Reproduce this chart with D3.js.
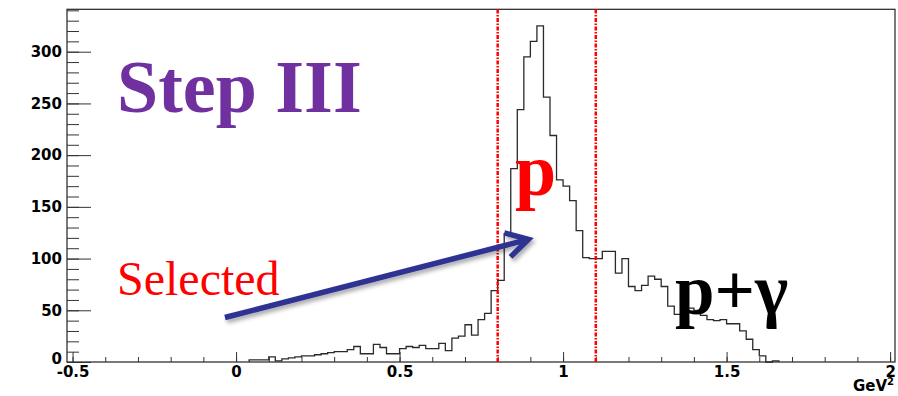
<!DOCTYPE html>
<html>
<head>
<meta charset="utf-8">
<script src="https://cdn.jsdelivr.net/npm/d3@7"></script>
<style>
  body { margin: 0; background: #fff; }
</style>
</head>
<body>
<svg id="chart" width="898" height="396"></svg>
<script>
// histogram of missing mass squared, bins of 0.02 GeV^2 starting at 0.04
var binStart = 0.04;
var binWidth = 0.02;
var counts = [
  2, 2, 2, 5, 1, 3, 4, 5, 6, 6,
  7, 8, 9, 10, 10, 12, 15, 8, 8, 17,
  14, 8, 8, 13, 15, 14, 16, 13, 13, 18,
  11, 23, 25, 36, 26, 41, 47, 69, 79, 124,
  187, 244, 295, 310, 325, 256, 219, 176, 170, 156,
  127, 101, 100, 100, 107, 107, 86, 100, 73, 69,
  74, 83, 80, 73, 54, 46, 50, 52, 50, 45,
  41, 40, 41, 37, 37, 30, 22, 12, 6, 0,
  1
];

// cut lines
var cuts = [0.8, 1.1];

// axis ticks
var xTicks = [-0.5, 0, 0.5, 1, 1.5, 2];
var xTickLabels = ["-0.5", "0", "0.5", "1", "1.5", "2"];
var yTicks = [0, 50, 100, 150, 200, 250, 300];
var yTickLabels = ["0", "50", "100", "150", "200", "250", "300"];

var svg = d3.select("#chart");

var plotLeft = 67, plotRight = 895, plotTop = 9.3, plotBottom = 362;

var x = d3.scaleLinear().domain([-0.517, 2.015]).range([plotLeft, plotRight]);
var y = d3.scaleLinear().domain([0, 341]).range([plotBottom, plotTop]);

function styleLabels(g) {
  g.select(".domain").remove();
  g.selectAll("text")
    .style("font-family", "DejaVu Sans, sans-serif")
    .style("font-weight", "bold")
    .style("font-size", "15px")
    .attr("fill", "#000");
  g.selectAll("line").attr("stroke", "#333");
}

// frame
svg.append("rect")
  .attr("x", plotLeft).attr("y", plotTop)
  .attr("width", plotRight - plotLeft).attr("height", plotBottom - plotTop)
  .attr("fill", "none")
  .attr("stroke", "#222")
  .attr("stroke-width", 1.2);

// x minor ticks
svg.append("g")
  .attr("transform", "translate(0," + plotBottom + ")")
  .call(d3.axisBottom(x)
    .tickValues(d3.range(-5, 21).map(i => i / 10))
    .tickSize(-5).tickSizeOuter(0).tickFormat(""))
  .call(styleLabels);

// x major ticks + labels
svg.append("g")
  .attr("transform", "translate(0," + plotBottom + ")")
  .call(d3.axisBottom(x)
    .tickValues(xTicks)
    .tickSize(-10).tickSizeOuter(0).tickPadding(4)
    .tickFormat((d, i) => xTickLabels[i]))
  .call(styleLabels);

// y minor ticks
svg.append("g")
  .attr("transform", "translate(" + plotLeft + ",0)")
  .call(d3.axisLeft(y)
    .tickValues(d3.range(0, 35).map(i => i * 10))
    .tickSize(-12).tickSizeOuter(0).tickFormat(""))
  .call(styleLabels);

// y major ticks + labels
svg.append("g")
  .attr("transform", "translate(" + plotLeft + ",0)")
  .call(d3.axisLeft(y)
    .tickValues(yTicks)
    .tickSize(-24).tickSizeOuter(0).tickPadding(5)
    .tickFormat((d, i) => yTickLabels[i]))
  .call(styleLabels)
  .call(g => g.selectAll(".tick").filter(d => d === 0).select("text").attr("dy", "0.1em"));

// axis unit
svg.append("text")
  .attr("x", 894).attr("y", 391)
  .attr("text-anchor", "end")
  .style("font-family", "DejaVu Sans, sans-serif")
  .style("font-weight", "bold")
  .style("font-size", "15px")
  .text("GeV")
  .append("tspan")
    .attr("dy", -6)
    .style("font-size", "10px")
    .text("2");

// histogram outline
var pts = [[binStart, 0]];
counts.forEach(function(c, i) {
  var lo = binStart + i * binWidth;
  pts.push([lo, c], [lo + binWidth, c]);
});
pts.push([binStart + counts.length * binWidth, 0]);

svg.append("path")
  .attr("d", d3.line().x(d => x(d[0])).y(d => y(d[1]))(pts))
  .attr("fill", "none")
  .attr("stroke", "#2a2a2a")
  .attr("stroke-width", 1.3);

// red dash-dot cut lines
svg.selectAll(".cut")
  .data(cuts)
  .enter().append("line")
  .attr("class", "cut")
  .attr("x1", d => x(d)).attr("x2", d => x(d))
  .attr("y1", y(0)).attr("y2", plotTop)
  .attr("stroke", "#ff0000")
  .attr("stroke-width", 2.5)
  .attr("stroke-dasharray", "4,1.5,1.5,1.5");

// annotations
svg.append("text")
  .attr("x", 117).attr("y", 111.5)
  .style("font-family", "Liberation Serif, serif")
  .style("font-weight", "bold")
  .style("font-size", "74px")
  .attr("fill", "#7030a0")
  .text("Step III");

svg.append("text")
  .attr("x", 117).attr("y", 295)
  .style("font-family", "Liberation Serif, serif")
  .style("font-size", "48px")
  .attr("fill", "#ff0000")
  .text("Selected");

svg.append("text")
  .attr("x", 515).attr("y", 195)
  .style("font-family", "Liberation Serif, serif")
  .style("font-weight", "bold")
  .style("font-size", "74px")
  .attr("fill", "#ff0000")
  .text("p");

svg.append("text")
  .attr("x", 675).attr("y", 314)
  .style("font-family", "Liberation Serif, serif")
  .style("font-weight", "bold")
  .style("font-size", "71px")
  .attr("fill", "#000")
  .text("p+\u03b3");

// arrow from "Selected" to the peak
var defs = svg.append("defs");
defs.append("filter")
  .attr("id", "shadow")
  .attr("x", "-10%").attr("y", "-50%").attr("width", "120%").attr("height", "200%")
  .append("feDropShadow")
  .attr("dx", 2).attr("dy", 3).attr("stdDeviation", 2)
  .attr("flood-color", "#000").attr("flood-opacity", 0.35);

var a0 = [x(-0.034), y(43)], a1 = [x(0.894), y(118.5)];
var ang = Math.atan2(a1[1] - a0[1], a1[0] - a0[0]);
var headLen = 25, headAng = 0.52;
var h1 = [a1[0] - headLen * Math.cos(ang - headAng), a1[1] - headLen * Math.sin(ang - headAng)];
var h2 = [a1[0] - headLen * Math.cos(ang + headAng), a1[1] - headLen * Math.sin(ang + headAng)];

var arrow = svg.append("g").attr("filter", "url(#shadow)");
arrow.append("path")
  .attr("d", "M" + a0 + "L" + a1 + "M" + h1 + "L" + a1 + "L" + h2)
  .attr("fill", "none")
  .attr("stroke", "#2e3192")
  .attr("stroke-width", 5.5)
  .attr("stroke-linecap", "butt")
  .attr("stroke-linejoin", "miter");
</script>
</body>
</html>
